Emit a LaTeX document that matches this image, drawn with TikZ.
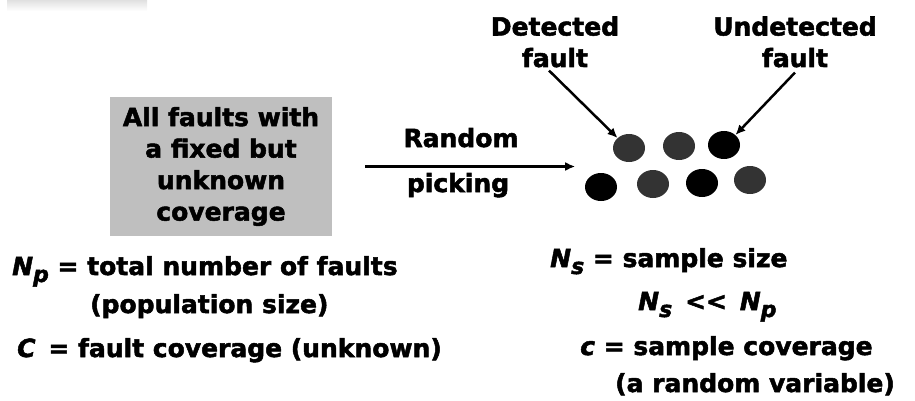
\documentclass[tikz,border=0pt]{standalone}
\usepackage{fontspec}
\setmainfont{DejaVu Sans}[BoldFeatures={FakeBold=2}, BoldItalicFeatures={FakeBold=2}]
\usetikzlibrary{arrows.meta,shapes.geometric,positioning}

\newcommand{\vsym}[2]{\textit{#1}\raisebox{-0.28em}{\fontsize{22pt}{22pt}\selectfont\textit{#2}}}

\tikzset{
	>={Latex[length=10pt,width=9pt]},
	txt/.style={font=\fontsize{25pt}{31.5pt}\selectfont\bfseries, inner sep=0pt},
	fault/.style={ellipse, inner sep=0pt, minimum width=32pt, minimum height=28pt},
	hit/.style={fault, fill=black!80},
	miss/.style={fault, fill=black},
	lead/.style={->, line width=2.5pt},
}

\begin{document}
\begin{tikzpicture}[x=1pt,y=-1pt]
		\useasboundingbox (0,0) rectangle (915,401);
		\shade[top color=black!12, bottom color=white] (7,0) rectangle (147,11);

		% population
		\node[txt, fill=black!25, minimum width=222pt, minimum height=139pt, align=center] (box) at (221,166.5)
			{All faults with\\a fixed but\\unknown\\coverage};

		\draw[->, line width=3pt] ([xshift=33pt]box.east) -- ([xshift=243pt]box.east);
		\node[txt, anchor=base] (rand) at (461,147) {Random};
		\node[txt, anchor=base] (pick) at (458,192) {picking};

		% sample
		\node[hit]  (d1) at (629,148) {};
		\node[hit]  (d2) at (679,146) {};
		\node[miss] (d3) at (724,145) {};
		\node[miss] (d4) at (601,187) {};
		\node[hit]  (d5) at (653,184) {};
		\node[miss] (d6) at (702,183) {};
		\node[hit]  (d7) at (750,180) {};

		\node[txt, anchor=base, align=center] (det) at (555,67) {Detected\\fault};
		\node[txt, anchor=base, align=center] (undet) at (795,67) {Undetected\\fault};
		\draw[lead] ([xshift=-6pt,yshift=-3pt]det.south) -- (d1.north west);
		\draw[lead] ([yshift=-5pt]undet.south) -- (d3.north east);

		% definitions
		\node[txt, anchor=base west] (np) at (12,275) {\vsym{N}{p} = total number of faults};
		\node[txt, anchor=base west] (pop) at (90,313) {(population size)};
		\node[txt, anchor=base west] (cov) at (17,357) {\textit{C}\, = fault coverage (unknown)};

		\node[txt, anchor=base west] (ns) at (550,267) {\vsym{N}{s} = sample size};
		\node[txt, anchor=base west] (cmp) at (638,310) {\vsym{N}{s}\, <{}<\, \vsym{N}{p}};
		\node[txt, anchor=base west] (sc) at (580,355) {\textit{c} = sample coverage};
		\node[txt, anchor=base west] (rv) at (615,392) {(a random variable)};
	\end{tikzpicture}
\end{document}
